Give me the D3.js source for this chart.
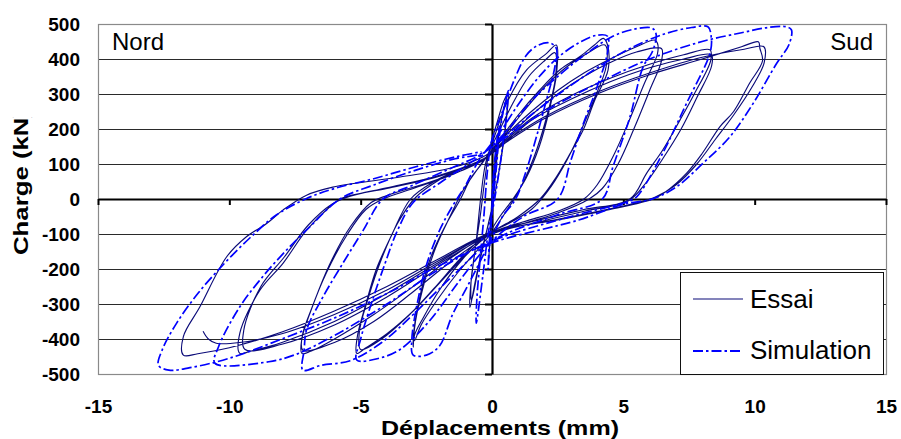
<!DOCTYPE html>
<html>
<head>
<meta charset="utf-8">
<script src="https://cdn.jsdelivr.net/npm/d3@7/dist/d3.min.js"></script>
<style>
  body { margin: 0; background: #fff; }
  svg { display: block; font-family: "Liberation Sans", Arial, sans-serif; }
</style>
</head>
<body>
<svg width="901" height="439"></svg>
<script>
// ---- data (mm, kN) ----
const xTicks = [-15, -10, -5, 0, 5, 10, 15];
const yTicks = [-500, -400, -300, -200, -100, 0, 100, 200, 300, 400, 500];
const seriesNames = ["Essai", "Simulation"];

// Essai cycles, one array per amplitude level
const essaiL1 = [[0,0],[0.1,90],[0.27,200],[0.22,140],[0.08,40],[-0.04,-60],[-0.12,-170],[-0.08,-110],[0.02,-10],[0.12,90],[0.25,190],[0.18,110],[0.02,-20],[-0.1,-150],[-0.06,-80]];
const essaiL2 = [[0.05,60],[0.2,160],[0.4,240],[0.62,306],[0.58,250],[0.4,140],[0.15,30],[-0.1,-60],[-0.4,-150],[-0.65,-240],[-0.84,-310],[-0.82,-255],[-0.65,-150],[-0.45,-50],[-0.3,40],[-0.1,140],[0.2,220],[0.45,280],[0.6,300],[0.55,235],[0.35,120],[0.1,10],[-0.2,-90],[-0.5,-190],[-0.78,-290],[-0.8,-240],[-0.6,-120],[-0.45,-10],[-0.3,80],[-0.2,115]];
const essaiL3 = [[0.1,180],[0.56,274],[1.32,369],[2.08,416],[2.45,440],[2.46,360],[2.2,260],[1.8,150],[1.3,60],[0.8,0],[0.3,-50],[-0.1,-95],[-0.5,-125],[-1.1,-170],[-2.0,-260],[-2.6,-337],[-2.95,-389],[-3.0,-423],[-2.98,-380],[-2.75,-280],[-2.35,-170],[-1.8,-80],[-1.2,0],[-0.8,60],[-0.3,110],[0.15,175],[0.7,260],[1.4,350],[2.0,395],[2.4,418],[2.42,350],[2.1,240],[1.6,120],[1.0,20],[0.5,-40],[0,-95],[-0.6,-150],[-1.3,-210],[-2.1,-290],[-2.7,-360],[-2.95,-405],[-2.95,-370],[-2.65,-260],[-2.15,-140],[-1.6,-50],[-1.1,25],[-0.6,80],[-0.3,112]];
const essaiL4 = [[0.3,170],[1.0,240],[1.8,310],[2.6,370],[3.35,407],[3.9,440],[4.24,459],[4.4,440],[4.42,369],[3.9,280],[3.47,197],[2.9,120],[2.46,64],[1.83,0],[1.0,-50],[0,-95],[-1,-160],[-2,-240],[-3,-320],[-4,-385],[-4.8,-425],[-5.15,-441],[-5.12,-390],[-4.8,-300],[-4.4,-200],[-3.8,-100],[-3.1,0],[-2.2,50],[-1.2,85],[-0.3,115],[0.4,175],[1.2,250],[2.0,320],[2.8,375],[3.6,415],[4.3,440],[4.35,380],[3.8,270],[3.3,180],[2.7,90],[2.1,20],[1.5,-30],[0.5,-75],[-0.2,-100],[-1.2,-170],[-2.2,-255],[-3.2,-335],[-4.2,-400],[-5.0,-430],[-5.05,-380],[-4.7,-280],[-4.2,-170],[-3.6,-70],[-2.9,5],[-2,55],[-1.1,88],[-0.3,114]];
const essaiL5 = [[0.5,180],[1.5,250],[2.5,310],[3.5,360],[4.5,400],[5.5,435],[6.2,454],[6.3,445],[6.3,415],[5.8,330],[5.2,220],[4.6,120],[4.0,40],[3.5,0],[2.5,-35],[1.2,-65],[0,-95],[-1.5,-165],[-3,-250],[-4.5,-330],[-6,-400],[-6.9,-435],[-7.24,-441],[-7.24,-400],[-6.9,-320],[-6.3,-210],[-5.5,-100],[-4.8,-30],[-4.15,0],[-3,30],[-1.5,70],[-0.3,115],[0.5,170],[1.5,240],[2.5,300],[3.5,350],[4.5,390],[5.5,420],[6.45,430],[6.46,397],[6.0,310],[5.4,200],[4.8,100],[4.2,30],[3.7,0],[2.5,-40],[1.2,-70],[0,-100],[-1.5,-175],[-3,-265],[-4.5,-350],[-6,-410],[-7.2,-432],[-7.22,-390],[-6.8,-300],[-6.2,-190],[-5.4,-80],[-4.6,-10],[-4,10],[-2.5,45],[-1.2,80],[-0.3,112]];
const essaiL6 = [[0.5,165],[1.5,230],[3,295],[4.5,345],[6,385],[7.3,412],[8.3,426],[8.33,397],[7.7,300],[7.16,226],[6.5,140],[5.89,74],[5.25,0],[3.5,-30],[1.8,-60],[0,-95],[-2,-180],[-4,-270],[-6,-350],[-8,-410],[-9.2,-435],[-9.6,-441],[-9.6,-383],[-8.83,-260],[-7.95,-183],[-7.06,-89],[-6.17,-22],[-5.7,3],[-4,30],[-2,65],[-0.3,115],[0.5,160],[1.5,225],[3,285],[4.5,335],[6,375],[7.3,400],[8.35,412],[8.36,380],[7.8,290],[7.2,200],[6.5,115],[5.9,50],[5.2,-5],[3.5,-35],[1.8,-65],[0,-100],[-2,-185],[-4,-280],[-6,-360],[-8,-415],[-9.4,-430],[-9.45,-375],[-8.8,-250],[-7.9,-165],[-7,-75],[-6.1,-15],[-5.4,8],[-4,32],[-2,68],[-0.3,116]];
const essaiL7 = [[0.5,160],[2,230],[4,300],[6,355],[8,400],[9.5,435],[10.14,449],[10.2,430],[10.3,395],[9.8,330],[9.2,250],[8.68,207],[8.0,130],[7.41,74],[6.6,20],[6.13,0],[4.5,-30],[2.5,-60],[0,-95],[-2,-170],[-4,-250],[-6,-320],[-8,-380],[-10,-425],[-11.2,-442],[-11.75,-446],[-11.75,-393],[-11.12,-308],[-10.1,-165],[-9.35,-108],[-8.58,-70],[-7.95,-31],[-7.06,11],[-6.06,34],[-3.5,63],[-1.6,88],[-0.33,121],[0.5,165],[2,235],[4,305],[6,360],[8,405],[9.6,428],[10.35,435],[10.36,389],[9.9,320],[9.2,240],[8.5,170],[7.8,100],[7.0,40],[6.2,5],[4.5,-28],[2.5,-58],[0,-97],[-2,-175],[-4,-260],[-6,-330],[-8,-385],[-9.6,-410],[-10.5,-412],[-10.8,-400],[-11.0,-378]];

// Simulation cycles
const simL1 = [[0,0],[0.1,110],[0.27,210],[0.2,120],[0.05,0],[-0.08,-120],[-0.15,-200],[-0.1,-120],[0,-20]];
const simL2 = [[0.1,80],[0.3,190],[0.45,260],[0.62,310],[0.55,240],[0.35,120],[0.1,0],[-0.15,-100],[-0.35,-220],[-0.6,-355],[-0.58,-290],[-0.45,-170],[-0.3,-40],[-0.2,60],[-0.1,130]];
const simL3 = [[0,170],[0.4,250],[0.9,350],[1.3,410],[1.7,437],[2.2,446],[2.45,430],[2.4,380],[2.1,290],[1.7,180],[1.3,80],[0.9,0],[0.4,-50],[0,-110],[-0.8,-230],[-1.5,-330],[-2.0,-420],[-2.5,-446],[-3.0,-446],[-3.05,-400],[-2.85,-300],[-2.5,-190],[-2.0,-90],[-1.5,-20],[-1.0,40],[-0.5,110]];
const simL4 = [[0.3,190],[1,270],[1.8,350],[2.6,410],[3.4,450],[4.0,468],[4.4,465],[4.4,420],[4.0,320],[3.5,220],[3.0,110],[2.5,0],[1.2,-50],[0,-120],[-1.2,-230],[-2.4,-350],[-3.5,-430],[-4.3,-455],[-5.15,-460],[-5.0,-400],[-4.6,-300],[-4.1,-190],[-3.6,-90],[-3.0,-10],[-2,45],[-1,95],[-0.4,125]];
const simL5 = [[0.5,190],[1.5,280],[2.5,350],[3.5,410],[4.6,465],[5.4,485],[6.1,488],[6.25,470],[6.1,420],[5.75,377],[5.25,234],[4.6,91],[4.2,0],[2.5,-45],[0,-120],[-1.5,-220],[-3,-330],[-4.2,-410],[-5.4,-462],[-6.5,-475],[-7.2,-489],[-7.15,-430],[-7.06,-374],[-6.43,-279],[-5.68,-184],[-4.9,-89],[-4.15,0],[-3,40],[-1.5,90],[-0.4,128]];
const simL6 = [[0.5,180],[2,270],[3.5,350],[5,420],[6.5,470],[7.6,490],[8.22,492],[8.35,460],[8.3,417],[7.41,274],[6.5,131],[5.63,17],[5.4,0],[3,-50],[0,-120],[-2,-200],[-4,-300],[-6,-390],[-7.5,-445],[-8.5,-465],[-10.55,-469],[-10.4,-420],[-9.6,-308],[-8.83,-231],[-7.95,-156],[-6.93,-79],[-5.79,0],[-4.5,40],[-3,80],[-1.4,115],[-0.4,130]];
const simL7 = [[0.5,175],[2,250],[4,330],[6,400],[8,450],[9.5,475],[10.5,490],[11.2,492],[11.4,483],[11.3,440],[10.84,388],[9.95,274],[9.06,178],[8.03,102],[7.03,35],[6.1,0],[5,-15],[3.3,-60],[0,-125],[-2,-190],[-4,-270],[-6,-340],[-8,-400],[-10,-455],[-11.5,-482],[-12.3,-489],[-12.7,-475],[-12.55,-430],[-12.0,-354],[-11.2,-270],[-10.2,-185],[-9.2,-110],[-8.2,-45],[-7.1,0],[-6,30],[-4.5,58],[-2.9,92],[-1.35,121],[-0.4,135]];

const essai = [].concat(essaiL1, essaiL2, essaiL3, essaiL4, essaiL5, essaiL6, essaiL7);
const simulation = [].concat(simL1, simL2, simL3, simL4, simL5, simL6, simL7);

// ---- layout ----
const svg = d3.select("svg");
const mLeft = 98, mRight = 886, mTop = 24, mBottom = 374;
const x = d3.scaleLinear().domain([-15, 15]).range([mLeft, mRight]);
const y = d3.scaleLinear().domain([-500, 500]).range([mBottom, mTop]);
const essaiColor = "#0a0a78", simColor = "#0000ff";
const simDash = "10,3,2.5,3";
const fontFam = "'Liberation Sans', Arial, sans-serif";

// gridlines
svg.append("g")
  .selectAll("line")
  .data(yTicks.filter(v => v !== 0 && Math.abs(v) !== 500))
  .join("line")
  .attr("x1", mLeft).attr("x2", mRight)
  .attr("y1", d => Math.round(y(d)) + 0.5).attr("y2", d => Math.round(y(d)) + 0.5)
  .attr("stroke", "#2a2a2a").attr("stroke-width", 1);

// plot frame
svg.append("rect")
  .attr("x", mLeft + 0.5).attr("y", mTop + 0.5)
  .attr("width", mRight - mLeft).attr("height", mBottom - mTop)
  .attr("fill", "none").attr("stroke", "#8a8a8a").attr("stroke-width", 1.2);

// zero axes with ticks
const xAxis0 = svg.append("g")
  .attr("transform", `translate(0,${y(0)})`)
  .call(d3.axisBottom(x).tickValues(xTicks).tickSize(6).tickSizeOuter(0).tickFormat(""));
const yAxis0 = svg.append("g")
  .attr("transform", `translate(${x(0)},0)`)
  .call(d3.axisLeft(y).tickValues(yTicks).tickSize(7).tickSizeOuter(0).tickFormat(""));
[xAxis0, yAxis0].forEach(g => {
  g.select(".domain").attr("stroke", "#000").attr("stroke-width", 2.2);
  g.selectAll(".tick line").attr("stroke", "#000").attr("stroke-width", 2);
});

// tick labels (plain hyphen for negatives, as in the original)
const plain = d => String(d);
const yLab = svg.append("g")
  .attr("transform", `translate(${mLeft},0)`)
  .call(d3.axisLeft(y).tickValues(yTicks).tickSize(0).tickPadding(18).tickFormat(plain));
const xLab = svg.append("g")
  .attr("transform", `translate(0,${mBottom})`)
  .call(d3.axisBottom(x).tickValues(xTicks).tickSize(0).tickPadding(26).tickFormat(plain));
[yLab, xLab].forEach(g => {
  g.select(".domain").remove();
  g.attr("font-family", null).attr("font-size", null);
  g.selectAll("text")
    .attr("fill", "#000")
    .style("font-family", fontFam)
    .style("font-size", "19px").style("font-weight", "bold");
});

// data lines
const line = d3.line()
  .x(d => x(d[0])).y(d => y(d[1]))
  .curve(d3.curveCatmullRom.alpha(0.5));

svg.append("path")
  .datum(essai)
  .attr("d", line)
  .attr("fill", "none").attr("stroke", essaiColor).attr("stroke-width", 1.15);

svg.append("path")
  .datum(simulation)
  .attr("d", line)
  .attr("fill", "none").attr("stroke", simColor).attr("stroke-width", 1.7)
  .attr("stroke-dasharray", simDash);

// axis titles
svg.append("text")
  .attr("x", 500).attr("y", 435)
  .attr("text-anchor", "middle")
  .attr("textLength", 238).attr("lengthAdjust", "spacingAndGlyphs")
  .style("font-family", fontFam)
  .style("font-size", "21px").style("font-weight", "bold")
  .text("Déplacements (mm)");

svg.append("clipPath").attr("id", "ytitle-clip")
  .append("rect").attr("x", 0).attr("y", 117).attr("width", 60).attr("height", 200);
svg.append("g").attr("clip-path", "url(#ytitle-clip)")
  .append("text")
  .attr("transform", "translate(28,255) rotate(-90)")
  .attr("textLength", 146).attr("lengthAdjust", "spacingAndGlyphs")
  .style("font-family", fontFam)
  .style("font-size", "21px").style("font-weight", "bold")
  .text("Charge (kN)");

// corner labels
svg.append("text").attr("x", 112).attr("y", 50)
  .style("font-family", fontFam).style("font-size", "24px").text("Nord");
svg.append("text").attr("x", 873).attr("y", 50).attr("text-anchor", "end")
  .style("font-family", fontFam).style("font-size", "24px").text("Sud");

// legend
const legend = svg.append("g");
legend.append("rect")
  .attr("x", 680.5).attr("y", 272.5).attr("width", 203).attr("height", 102)
  .attr("fill", "#fff").attr("stroke", "#111").attr("stroke-width", 1);
const legendRows = [
  { name: seriesNames[0], color: essaiColor, width: 1.2, dash: null, ly: 299, ty: 308 },
  { name: seriesNames[1], color: simColor, width: 2, dash: simDash, ly: 351, ty: 359 }
];
legendRows.forEach(r => {
  legend.append("line")
    .attr("x1", 693).attr("x2", 743).attr("y1", r.ly).attr("y2", r.ly)
    .attr("stroke", r.color).attr("stroke-width", r.width)
    .attr("stroke-dasharray", r.dash);
  legend.append("text").attr("x", 750).attr("y", r.ty)
    .style("font-family", fontFam).style("font-size", "26px").text(r.name);
});
</script>
</body>
</html>
